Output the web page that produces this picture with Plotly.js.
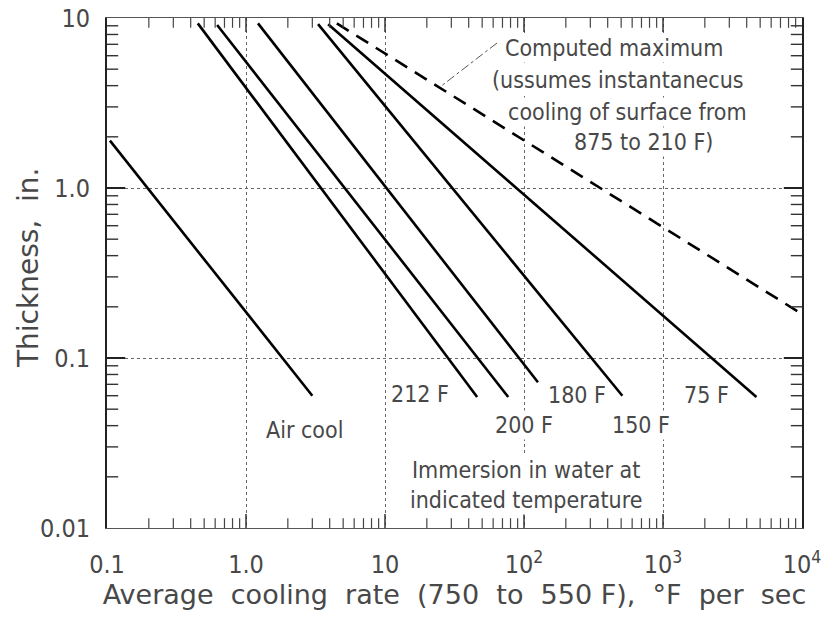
<!DOCTYPE html>
<html><head><meta charset="utf-8">
<script src="https://cdn.plot.ly/plotly-3.0.1.min.js"></script>
<style>html,body{margin:0;padding:0;background:#fff}#chart{width:829px;height:625px}</style>
</head>
<body>
<div id="chart"></div>
<script>
// ---- data ----
const airCoolX = [0.105, 3.0];
const airCoolY = [1.9, 0.06];
const water212X = [0.45, 46];
const water212Y = [9.3, 0.059];
const water200X = [0.62, 77];
const water200Y = [9.1, 0.059];
const water180X = [1.22, 126];
const water180Y = [9.3, 0.072];
const water150X = [3.3, 510];
const water150Y = [9.2, 0.060];
const water75X = [3.9, 4700];
const water75Y = [9.2, 0.059];
const computedMaxX = [4.5, 9400];
const computedMaxY = [9.3, 0.187];
const leaderX = [64, 24.9];
const leaderY = [7.13, 3.93];

const xTickVals = [0.1, 1, 10, 100, 1000, 10000];
const xTickText = ['0.1', '1.0', '10', '10<sup>2</sup>', '10<sup>3</sup>', '10<sup>4</sup>'];
const yTickVals = [0.01, 0.1, 1, 10];
const yTickText = ['0.01', '0.1', '1.0', '10'];

function minorVals(d0, d1) {
  const v = [];
  for (let d = d0; d < d1; d++) for (let k = 2; k <= 9; k++) v.push(k * Math.pow(10, d));
  return v;
}
const xMinor = minorVals(-1, 4);
const yMinor = minorVals(-2, 1);
const xLo = xTickVals[0], xHi = xTickVals[xTickVals.length - 1];
const yLo = yTickVals[0], yHi = yTickVals[yTickVals.length - 1];

const solid = {color: '#000', width: 2.6};
function seg(x, y, name) {
  return {x: x, y: y, type: 'scatter', mode: 'lines', name: name, line: solid, hoverinfo: 'skip'};
}
// inward tick marks: line markers centred on the frame, half clipped away by the plot area
function tickMarks(x, y, symbol, size, color, width) {
  return {x: x, y: y, type: 'scatter', mode: 'markers', cliponaxis: true, hoverinfo: 'skip',
          marker: {symbol: symbol, size: size, color: color, line: {color: color, width: width}}};
}
const xMid = xTickVals.slice(1, -1);
const yMid = yTickVals.slice(1, -1);
const traces = [
  seg(airCoolX, airCoolY, 'Air cool'),
  seg(water212X, water212Y, '212 F'),
  seg(water200X, water200Y, '200 F'),
  seg(water180X, water180Y, '180 F'),
  seg(water150X, water150Y, '150 F'),
  seg(water75X, water75Y, '75 F'),
  {x: computedMaxX, y: computedMaxY, type: 'scatter', mode: 'lines', name: 'Computed maximum',
   line: {color: '#000', width: 2.6, dash: '14px,9px'}, hoverinfo: 'skip'},
  {x: leaderX, y: leaderY, type: 'scatter', mode: 'lines', name: 'leader',
   line: {color: '#555', width: 1, dash: 'dashdot'}, hoverinfo: 'skip'},
  // minor ticks, bottom + top
  tickMarks(xMinor.concat(xMinor), xMinor.map(() => yLo).concat(xMinor.map(() => yHi)),
            'line-ns-open', 14, '#444', 1.2),
  // minor ticks, left + right
  tickMarks(yMinor.map(() => xLo).concat(yMinor.map(() => xHi)), yMinor.concat(yMinor),
            'line-ew-open', 16, '#333', 1.4),
  // major ticks, bottom + top
  tickMarks(xMid.concat(xMid), xMid.map(() => yLo).concat(xMid.map(() => yHi)),
            'line-ns-open', 20, '#333', 1.5),
  // major ticks, left + right
  tickMarks(yMid.map(() => xLo).concat(yMid.map(() => xHi)), yMid.concat(yMid),
            'line-ew-open', 26, '#222', 2),
  // invisible trace carrying the grid-only overlay axes
  {x: [1], y: [1], type: 'scatter', mode: 'markers', marker: {opacity: 0}, xaxis: 'x2', yaxis: 'y2', hoverinfo: 'skip'}
];

const TXT = '#484848';
const annFont = {family: 'DejaVu Sans Condensed, DejaVu Sans, sans-serif', size: 23, color: TXT};
function lbl(text, x, y) {
  return {text: text, x: Math.log10(x), y: Math.log10(y), xref: 'x', yref: 'y',
          showarrow: false, font: annFont, bgcolor: '#fff', borderpad: 1};
}
const annotations = [
  lbl('Air cool', 2.65, 0.0377),
  lbl('212 F', 17.9, 0.0614),
  lbl('180 F', 240, 0.0605),
  lbl('75 F', 2040, 0.0605),
  lbl('200 F', 100, 0.0404),
  lbl('150 F', 695, 0.0404),
  lbl('Immersion in water at', 103, 0.0219),
  lbl('indicated temperature', 103, 0.0146),
  lbl('Computed maximum', 444, 6.67),
  lbl('(ussumes instantanecus', 474, 4.32),
  lbl('cooling of surface from', 551, 2.80),
  lbl('875 to 210 F)', 718, 1.87),
  {text: 'Thickness,  in.', xref: 'paper', yref: 'paper', x: -0.112, y: 0.51,
   xanchor: 'center', yanchor: 'middle', textangle: -90, showarrow: false,
   font: {family: 'DejaVu Sans, sans-serif', size: 28, color: TXT}}
];

const tickFont = {family: 'DejaVu Sans Condensed, DejaVu Sans, sans-serif', size: 25, color: TXT};
const titleFont = {family: 'DejaVu Sans, sans-serif', size: 27, color: TXT};

const layout = {
  width: 829, height: 625,
  margin: {l: 107, r: 27, t: 18, b: 97},
  paper_bgcolor: '#fff', plot_bgcolor: '#fff',
  showlegend: false,
  xaxis: {
    type: 'log', range: [-1, 4],
    tickmode: 'array', tickvals: xTickVals, ticktext: xTickText,
    tickfont: tickFont, ticks: '', ticklabelstandoff: 14,
    showline: true, linecolor: '#555', linewidth: 1.2, mirror: true,
    showgrid: false, zeroline: false,
    title: {text: 'Average  cooling  rate  (750  to  550 F),  °F  per  sec', font: titleFont, standoff: 6}
  },
  yaxis: {
    type: 'log', range: [-2, 1],
    tickmode: 'array', tickvals: yTickVals, ticktext: yTickText,
    tickfont: tickFont, ticks: '', ticklabelstandoff: 10,
    showline: true, linecolor: '#222', linewidth: 2, mirror: true,
    showgrid: false, zeroline: false
  },
  xaxis2: {
    type: 'log', range: [-1, 4], overlaying: 'x', anchor: 'y2', side: 'bottom',
    tickmode: 'array', tickvals: xTickVals, showticklabels: false, ticks: '',
    showline: false, showgrid: true, gridcolor: '#666', gridwidth: 1, griddash: 'dot', zeroline: false
  },
  yaxis2: {
    type: 'log', range: [-2, 1], overlaying: 'y', anchor: 'x2', side: 'left',
    tickmode: 'array', tickvals: yTickVals, showticklabels: false, ticks: '',
    showline: false, showgrid: true, gridcolor: '#666', gridwidth: 1, griddash: 'dot', zeroline: false
  },
  annotations: annotations
};

Plotly.newPlot('chart', traces, layout, {staticPlot: true, displayModeBar: false});
</script>
</body></html>
